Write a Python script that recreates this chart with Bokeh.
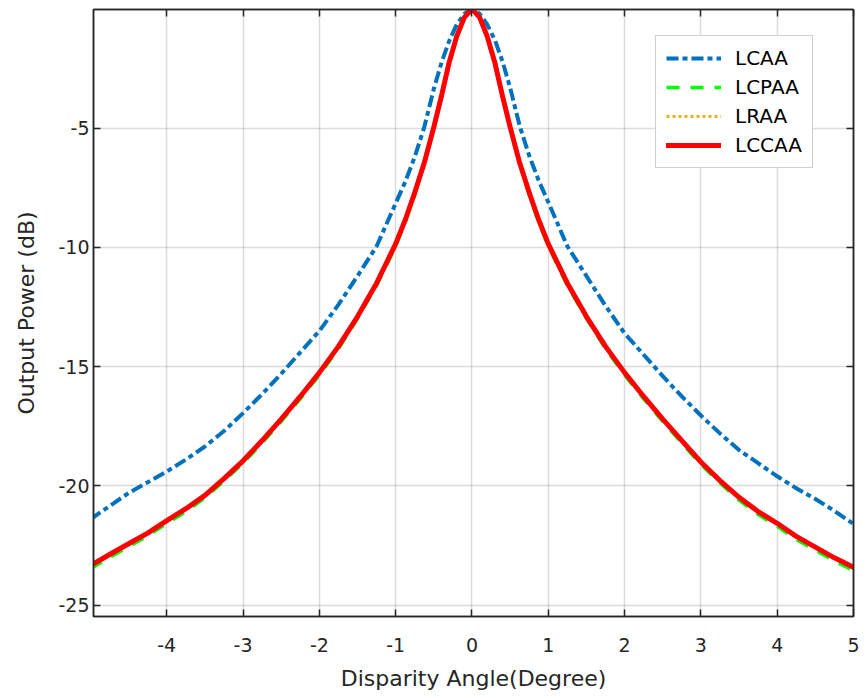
from bokeh.plotting import figure
from bokeh.models import Range1d, Legend, LegendItem, FixedTicker, LinearAxis
from bokeh.embed import file_html
from bokeh.resources import INLINE

# ---- data ----
angle = [-5, -4.75, -4.5, -4.25, -4, -3.75, -3.5, -3.25, -3, -2.75, -2.5, -2.25, -2,
         -1.75, -1.5, -1.25, -1, -0.875, -0.75, -0.625, -0.5, -0.4, -0.3, -0.2, -0.1, 0,
         0.1, 0.2, 0.3, 0.4, 0.5, 0.625, 0.75, 0.875, 1, 1.25, 1.5, 1.75, 2, 2.25, 2.5,
         2.75, 3, 3.25, 3.5, 3.75, 4, 4.25, 4.5, 4.75, 5]

lcaa = [-21.4, -20.85, -20.3, -19.85, -19.4, -18.9, -18.35, -17.7, -16.95, -16.15, -15.3,
        -14.4, -13.5, -12.4, -11.2, -9.95, -8.15, -7.25, -6.2, -4.95, -3.35, -2.25, -1.35,
        -0.65, -0.2, 0.0,
        -0.2, -0.65, -1.3, -2.2, -3.3, -4.9, -6.15, -7.2, -8.1, -9.95, -11.2, -12.45, -13.6,
        -14.5, -15.4, -16.25, -17.05, -17.8, -18.5, -19.05, -19.6, -20.1, -20.55, -21.05, -21.6]

lcpaa = [-23.48, -23.0, -22.55, -22.1, -21.58, -21.08, -20.5, -19.8, -19.05, -18.2, -17.3,
         -16.35, -15.35, -14.25, -12.98, -11.6, -9.95, -8.95, -7.8, -6.5, -5.0, -3.7, -2.3,
         -1.18, -0.36, 0.0,
         -0.36, -1.18, -2.3, -3.7, -5.0, -6.5, -7.8, -8.95, -9.95, -11.6, -12.98, -14.25, -15.35,
         -16.35, -17.3, -18.2, -19.1, -19.88, -20.6, -21.2, -21.7, -22.25, -22.7, -23.15, -23.55]

lraa = [-23.4, -22.92, -22.47, -22.02, -21.5, -21.0, -20.43, -19.73, -18.98, -18.13, -17.23,
        -16.28, -15.28, -14.18, -12.92, -11.54, -9.88, -8.88, -7.73, -6.46, -4.97, -3.67, -2.27,
        -1.16, -0.35, 0.0,
        -0.35, -1.16, -2.27, -3.67, -4.97, -6.46, -7.73, -8.88, -9.88, -11.54, -12.92, -14.18,
        -15.28, -16.28, -17.23, -18.13, -19.03, -19.8, -20.5, -21.1, -21.6, -22.15, -22.6, -23.05,
        -23.46]

lccaa = [-23.35, -22.88, -22.43, -21.98, -21.46, -20.96, -20.4, -19.7, -18.95, -18.1, -17.2,
         -16.25, -15.25, -14.15, -12.9, -11.5, -9.85, -8.85, -7.7, -6.45, -4.95, -3.65, -2.25,
         -1.15, -0.35, 0.0,
         -0.35, -1.15, -2.25, -3.65, -4.95, -6.45, -7.7, -8.85, -9.85, -11.5, -12.9, -14.15,
         -15.25, -16.25, -17.2, -18.1, -19.0, -19.78, -20.48, -21.08, -21.57, -22.12, -22.57,
         -23.02, -23.42]

x_ticks = [-4, -3, -2, -1, 0, 1, 2, 3, 4, 5]
y_ticks = [-25, -20, -15, -10, -5]
x_lim = (-4.96, 5)
y_lim = (-25.48, -0.02)

FONT = "DejaVu Sans"
TXT = "#262626"

p = figure(width=868, height=698, output_backend="svg", toolbar_location=None,
           x_range=Range1d(*x_lim), y_range=Range1d(*y_lim),
           min_border_left=93, min_border_right=15, min_border_top=9, min_border_bottom=82)
p.background_fill_color = "white"
p.border_fill_color = "white"
p.outline_line_color = TXT
p.outline_line_width = 1.5

# grid
for g in (p.xgrid, p.ygrid):
    g.grid_line_color = TXT
    g.grid_line_alpha = 0.16
    g.grid_line_width = 1.5
p.xgrid.ticker = FixedTicker(ticks=x_ticks)
p.ygrid.ticker = FixedTicker(ticks=y_ticks)

def style_axis(ax, ticks, labels=True):
    ax.ticker = FixedTicker(ticks=ticks)
    ax.major_label_overrides = {t: str(t) for t in ticks}
    ax.minor_tick_line_color = None
    ax.major_tick_in = 7
    ax.major_tick_out = 0
    ax.major_tick_line_color = TXT
    ax.major_tick_line_width = 1.5
    ax.axis_line_color = TXT
    ax.axis_line_width = 1.5
    ax.major_label_text_font = FONT
    ax.major_label_text_font_size = "19px"
    ax.major_label_text_color = TXT if labels else None
    ax.axis_label_text_font = FONT
    ax.axis_label_text_font_size = "22px"
    ax.axis_label_text_font_style = "normal"
    ax.axis_label_text_color = TXT

style_axis(p.xaxis[0], x_ticks)
style_axis(p.yaxis[0], y_ticks)
p.xaxis[0].axis_label = "Disparity Angle(Degree)"
p.yaxis[0].axis_label = "Output Power (dB)"
p.xaxis[0].major_label_standoff = 21
p.xaxis[0].axis_label_standoff = 11
p.yaxis[0].major_label_standoff = 4
p.yaxis[0].axis_label_standoff = 16

# unlabelled axes on top and right carry the inward tick marks of the box
top_ax = LinearAxis()
right_ax = LinearAxis()
style_axis(top_ax, x_ticks, labels=False)
style_axis(right_ax, y_ticks, labels=False)
top_ax.major_label_standoff = 0
right_ax.major_label_standoff = 0
p.add_layout(top_ax, "above")
p.add_layout(right_ax, "right")

r1 = p.line(angle, lcaa, line_color="#0072BD", line_width=4, line_dash="12 4 5 4")
r2 = p.line(angle, lcpaa, line_color="#00FF00", line_width=3.5, line_dash="13 11")
r3 = p.line(angle, lraa, line_color="#EDB120", line_width=3, line_dash="3 3")
r4 = p.line(angle, lccaa, line_color="#FF0000", line_width=5, line_join="round", line_cap="round")

legend = Legend(items=[LegendItem(label="LCAA", renderers=[r1]),
                       LegendItem(label="LCPAA", renderers=[r2]),
                       LegendItem(label="LRAA", renderers=[r3]),
                       LegendItem(label="LCCAA", renderers=[r4])],
                location=(562, 448))
legend.label_text_font = FONT
legend.label_text_font_size = "20px"
legend.label_text_color = "black"
legend.glyph_width = 55
legend.glyph_height = 20
legend.label_height = 20
legend.label_standoff = 14
legend.spacing = 5
legend.padding = 10
legend.margin = 0
legend.border_line_color = "#A0A0A0"
legend.border_line_width = 1.5
legend.background_fill_color = "white"
legend.background_fill_alpha = 1
p.add_layout(legend, "center")

open("out.html", "w").write(file_html(p, INLINE))
